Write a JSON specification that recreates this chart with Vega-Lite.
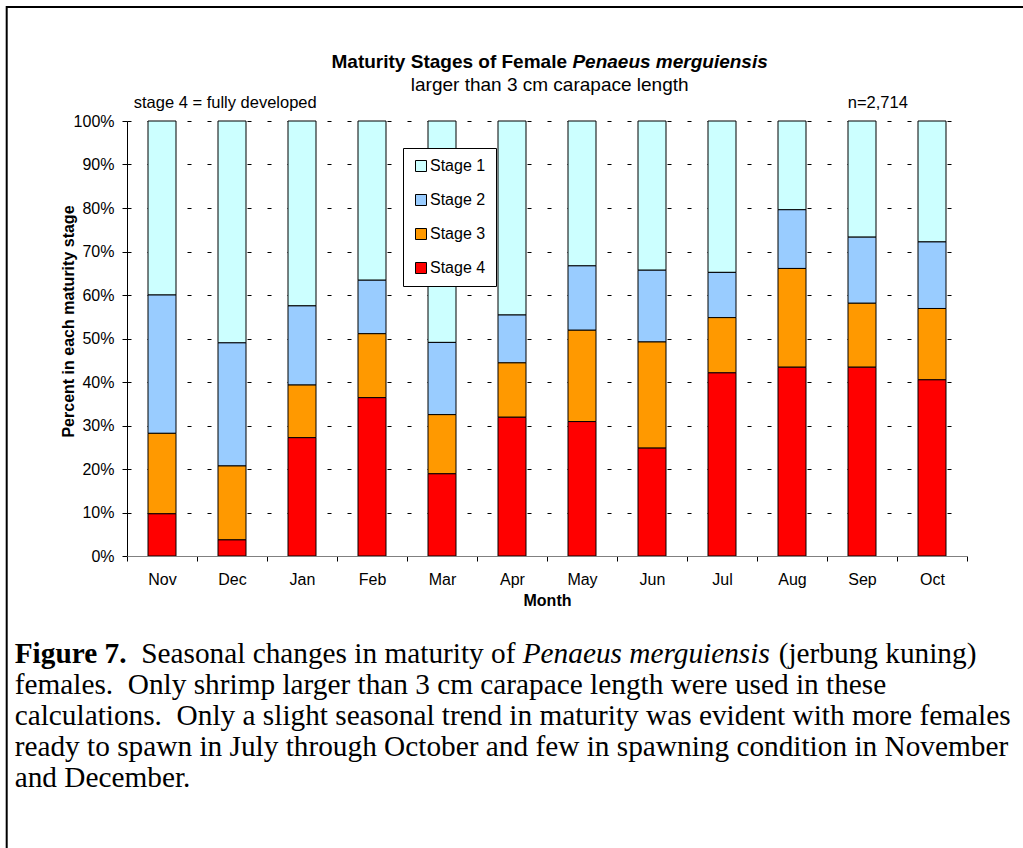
{
  "$schema": "https://vega.github.io/schema/vega-lite/v6.json",
  "width": 840,
  "height": 435,
  "autosize": {"type": "none"},
  "padding": {"left": 127, "top": 121, "right": 56, "bottom": 292},
  "background": "white",
  "config": {"view": {"stroke": null}, "font": "Liberation Sans"},
  "data": {"values": [{}]},
  "datasets": {
    "maturity": [
      {"month": "Nov", "stage": "Stage 1", "pct": 40.0},
      {"month": "Nov", "stage": "Stage 2", "pct": 31.8},
      {"month": "Nov", "stage": "Stage 3", "pct": 18.5},
      {"month": "Nov", "stage": "Stage 4", "pct": 9.7},
      {"month": "Dec", "stage": "Stage 1", "pct": 51.0},
      {"month": "Dec", "stage": "Stage 2", "pct": 28.3},
      {"month": "Dec", "stage": "Stage 3", "pct": 17.0},
      {"month": "Dec", "stage": "Stage 4", "pct": 3.7},
      {"month": "Jan", "stage": "Stage 1", "pct": 42.5},
      {"month": "Jan", "stage": "Stage 2", "pct": 18.2},
      {"month": "Jan", "stage": "Stage 3", "pct": 12.1},
      {"month": "Jan", "stage": "Stage 4", "pct": 27.2},
      {"month": "Feb", "stage": "Stage 1", "pct": 36.6},
      {"month": "Feb", "stage": "Stage 2", "pct": 12.3},
      {"month": "Feb", "stage": "Stage 3", "pct": 14.7},
      {"month": "Feb", "stage": "Stage 4", "pct": 36.4},
      {"month": "Mar", "stage": "Stage 1", "pct": 50.9},
      {"month": "Mar", "stage": "Stage 2", "pct": 16.6},
      {"month": "Mar", "stage": "Stage 3", "pct": 13.6},
      {"month": "Mar", "stage": "Stage 4", "pct": 18.9},
      {"month": "Apr", "stage": "Stage 1", "pct": 44.6},
      {"month": "Apr", "stage": "Stage 2", "pct": 11.0},
      {"month": "Apr", "stage": "Stage 3", "pct": 12.5},
      {"month": "Apr", "stage": "Stage 4", "pct": 31.9},
      {"month": "May", "stage": "Stage 1", "pct": 33.3},
      {"month": "May", "stage": "Stage 2", "pct": 14.8},
      {"month": "May", "stage": "Stage 3", "pct": 21.0},
      {"month": "May", "stage": "Stage 4", "pct": 30.9},
      {"month": "Jun", "stage": "Stage 1", "pct": 34.3},
      {"month": "Jun", "stage": "Stage 2", "pct": 16.5},
      {"month": "Jun", "stage": "Stage 3", "pct": 24.4},
      {"month": "Jun", "stage": "Stage 4", "pct": 24.8},
      {"month": "Jul", "stage": "Stage 1", "pct": 34.8},
      {"month": "Jul", "stage": "Stage 2", "pct": 10.4},
      {"month": "Jul", "stage": "Stage 3", "pct": 12.7},
      {"month": "Jul", "stage": "Stage 4", "pct": 42.1},
      {"month": "Aug", "stage": "Stage 1", "pct": 20.4},
      {"month": "Aug", "stage": "Stage 2", "pct": 13.5},
      {"month": "Aug", "stage": "Stage 3", "pct": 22.7},
      {"month": "Aug", "stage": "Stage 4", "pct": 43.4},
      {"month": "Sep", "stage": "Stage 1", "pct": 26.7},
      {"month": "Sep", "stage": "Stage 2", "pct": 15.2},
      {"month": "Sep", "stage": "Stage 3", "pct": 14.7},
      {"month": "Sep", "stage": "Stage 4", "pct": 43.4},
      {"month": "Oct", "stage": "Stage 1", "pct": 27.8},
      {"month": "Oct", "stage": "Stage 2", "pct": 15.3},
      {"month": "Oct", "stage": "Stage 3", "pct": 16.4},
      {"month": "Oct", "stage": "Stage 4", "pct": 40.5}
    ]
  },
  "layer": [
    {
      "data": {"name": "maturity"},
      "mark": {"type": "bar", "stroke": "black", "strokeWidth": 1, "width": {"band": 0.4}},
      "encoding": {
        "x": {
          "field": "month", "type": "nominal",
          "sort": ["Nov", "Dec", "Jan", "Feb", "Mar", "Apr", "May", "Jun", "Jul", "Aug", "Sep", "Oct"],
          "scale": {"paddingInner": 0, "paddingOuter": 0},
          "axis": {
            "title": "Month", "labelAngle": 0, "tickBand": "extent", "zindex": 1,
            "labelFont": "Liberation Sans", "labelFontSize": 16, "labelColor": "black",
            "labelBaseline": "alphabetic", "labelPadding": 23,
            "tickSize": 5, "tickColor": "black", "domainColor": "#808080", "grid": false,
            "titleFont": "Liberation Sans", "titleFontSize": 16, "titleFontWeight": "bold", "titleColor": "black",
            "titleBaseline": "alphabetic", "titleY": 49
          }
        },
        "y": {
          "field": "pct", "type": "quantitative", "stack": "zero",
          "scale": {"domain": [0, 100], "nice": false},
          "axis": {
            "title": "Percent in each maturity stage",
            "values": [0, 10, 20, 30, 40, 50, 60, 70, 80, 90, 100],
            "labelExpr": "datum.value + '%'",
            "labelFont": "Liberation Sans", "labelFontSize": 16, "labelColor": "black", "labelPadding": 8,
            "tickSize": 5, "tickColor": "black", "domainColor": "black",
            "grid": true, "gridColor": "black", "gridDash": [4, 16], "gridWidth": 1,
            "titleFont": "Liberation Sans", "titleFontSize": 16, "titleFontWeight": "bold", "titleColor": "black",
            "titleX": -59, "titleY": 200, "titleAngle": 270, "titleBaseline": "middle", "titleAlign": "center"
          }
        },
        "color": {
          "field": "stage", "type": "nominal",
          "scale": {"domain": ["Stage 1", "Stage 2", "Stage 3", "Stage 4"], "range": ["#CCFFFF", "#99CCFF", "#FF9900", "#FF0000"]},
          "legend": {
            "title": null, "orient": "none", "legendX": 276, "legendY": 27,
            "strokeColor": "black", "fillColor": "white", "padding": 10,
            "symbolType": "square", "symbolSize": 121, "symbolStrokeColor": "black", "symbolStrokeWidth": 1, "symbolOpacity": 1,
            "labelFont": "Liberation Sans", "labelFontSize": 16, "labelColor": "black", "labelOffset": 1, "rowPadding": 18
          }
        },
        "order": {"field": "stage", "sort": "descending"}
      }
    },
    {
      "mark": {"type": "text", "text": "Maturity Stages of Female", "font": "Liberation Sans", "fontSize": 19, "fontWeight": "bold", "align": "right", "baseline": "alphabetic", "dx": -15, "color": "black"},
      "encoding": {"x": {"datum": "May"}, "y": {"datum": 112.2}}
    },
    {
      "mark": {"type": "text", "text": "Penaeus merguiensis", "font": "Liberation Sans", "fontSize": 19, "fontWeight": "bold", "fontStyle": "italic", "align": "left", "baseline": "alphabetic", "dx": -9.6, "color": "black"},
      "encoding": {"x": {"datum": "May"}, "y": {"datum": 112.2}}
    },
    {
      "mark": {"type": "text", "text": "larger than 3 cm carapace length", "font": "Liberation Sans", "fontSize": 19, "align": "center", "baseline": "alphabetic", "dx": -32.3, "color": "black"},
      "encoding": {"x": {"datum": "May"}, "y": {"datum": 107.0}}
    },
    {
      "mark": {"type": "text", "text": "stage 4 = fully developed", "font": "Liberation Sans", "fontSize": 16.5, "align": "left", "baseline": "alphabetic", "dx": -28.3, "color": "black"},
      "encoding": {"x": {"datum": "Nov"}, "y": {"datum": 103.0}}
    },
    {
      "mark": {"type": "text", "text": "n=2,714", "font": "Liberation Sans", "fontSize": 16.5, "align": "left", "baseline": "alphabetic", "dx": -14.3, "color": "black"},
      "encoding": {"x": {"datum": "Sep"}, "y": {"datum": 103.0}}
    },
    {
      "mark": {"type": "text", "text": "Figure 7.", "font": "Liberation Serif", "fontSize": 29.3, "fontWeight": "bold", "align": "left", "baseline": "alphabetic", "dx": -147.3, "color": "black"},
      "encoding": {"x": {"datum": "Nov"}, "y": {"datum": -24.6}}
    },
    {
      "mark": {"type": "text", "text": "Seasonal changes in maturity of", "font": "Liberation Serif", "fontSize": 29.3, "align": "left", "baseline": "alphabetic", "dx": -20.8, "color": "black"},
      "encoding": {"x": {"datum": "Nov"}, "y": {"datum": -24.6}}
    },
    {
      "mark": {"type": "text", "text": "Penaeus merguiensis", "font": "Liberation Serif", "fontSize": 29.3, "fontStyle": "italic", "align": "left", "baseline": "alphabetic", "dx": 360.7, "color": "black"},
      "encoding": {"x": {"datum": "Nov"}, "y": {"datum": -24.6}}
    },
    {
      "mark": {"type": "text", "text": "(jerbung kuning)", "font": "Liberation Serif", "fontSize": 29.3, "align": "left", "baseline": "alphabetic", "dx": 616.7, "color": "black"},
      "encoding": {"x": {"datum": "Nov"}, "y": {"datum": -24.6}}
    },
    {
      "mark": {"type": "text", "text": ["females.\u00a0 Only shrimp larger than 3 cm carapace length were used in these", "calculations.\u00a0 Only a slight seasonal trend in maturity was evident with more females", "ready to spawn in July through October and few in spawning condition in November", "and December."], "font": "Liberation Serif", "fontSize": 29.3, "lineHeight": 31, "align": "left", "baseline": "alphabetic", "dx": -147.3, "color": "black"},
      "encoding": {"x": {"datum": "Nov"}, "y": {"datum": -31.72}}
    },
    {
      "mark": {"type": "rule", "stroke": "black", "strokeWidth": 2, "xOffset": -155.3, "x2Offset": 100},
      "encoding": {"x": {"datum": "Nov"}, "x2": {"datum": "Oct"}, "y": {"datum": 126.2}}
    },
    {
      "mark": {"type": "rule", "stroke": "black", "strokeWidth": 2, "xOffset": -155.3},
      "encoding": {"x": {"datum": "Nov"}, "y": {"datum": 126.44}, "y2": {"datum": -80}}
    }
  ]
}
